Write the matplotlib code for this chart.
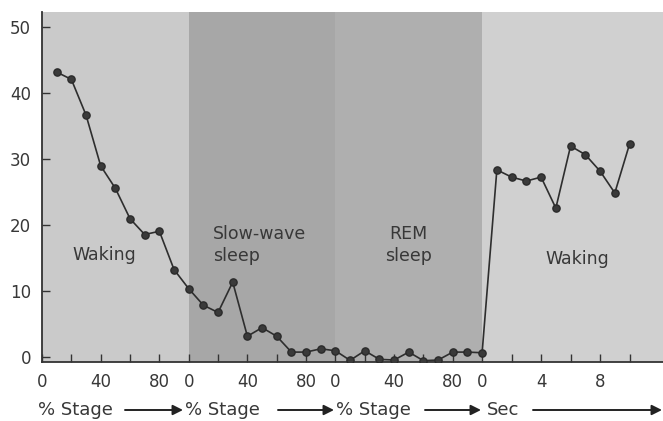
import numpy as np
import matplotlib
matplotlib.use("Agg")
import matplotlib.pyplot as plt

# Data
stages = ["Waking", "Slow-wave\nsleep", "REM\nsleep", "Waking"]
stage_colors = ["#cacaca", "#a7a7a7", "#afafaf", "#d0d0d0"]

pct = [10, 20, 30, 40, 50, 60, 70, 80, 90, 100]
waking_pct = [43.2, 42.1, 36.7, 29.0, 25.6, 21.0, 18.6, 19.1, 13.3, 10.4]
sws_pct = [7.9, 6.8, 11.4, 3.2, 4.5, 3.2, 0.8, 0.8, 1.3, 1.0]
rem_pct = [-0.45, 1.0, -0.3, -0.4, 0.8, -0.5, -0.4, 0.8, 0.8, 0.7]

sec = [1, 2, 3, 4, 5, 6, 7, 8, 9, 10]
waking_sec = [28.4, 27.3, 26.7, 27.3, 22.6, 32.0, 30.7, 28.2, 24.9, 32.3]

pct_labels = ["0", "", "40", "", "80"]
sec_labels = ["0", "", "4", "", "8", ""]

# one long x axis: three 100% stages, then seconds
SEC_UNIT = 10.05
XMAX = 423.3
x = np.concatenate([np.array(pct) + 0, np.array(pct) + 100, np.array(pct) + 200,
                    300 + np.array(sec) * SEC_UNIT])
y = np.concatenate([waking_pct, sws_pct, rem_pct, waking_sec])

fig = plt.figure(figsize=(6.63, 4.21), dpi=100)
ax = fig.add_axes([42 / 663, 59 / 421, 1 - 42 / 663, 350 / 421])
ax.set_xlim(0, XMAX)
ax.set_ylim(-0.7, 52.3)

# shaded stage bands
edges = [0, 100, 200, 300, XMAX]
for i in range(4):
    ax.axvspan(edges[i], edges[i + 1], color=stage_colors[i], lw=0, zorder=0)

ax.plot(x, y, color="#2e2e2e", lw=1.2, marker="o", markersize=5.2,
        markerfacecolor="#3a3a3a", markeredgecolor="#2a2a2a", zorder=3)

# stage labels
tk = dict(fontsize=12.5, color="#383838", zorder=4)
ax.text(42.3, 15.5, stages[0], ha="center", va="center", **tk)
ax.text(116.6, 17.0, stages[1], ha="left", va="center", linespacing=1.25, **tk)
ax.text(249.5, 17.0, stages[2], ha="center", va="center", linespacing=1.25, **tk)
ax.text(364.7, 14.9, stages[3], ha="center", va="center", **tk)

# ticks
xt, xl = [], []
for off in [0, 100, 200]:
    for j, v in enumerate(range(0, 100, 20)):
        xt.append(off + v)
        xl.append(pct_labels[j])
for j, s in enumerate(range(0, 12, 2)):
    xt.append(300 + s * SEC_UNIT)
    xl.append(sec_labels[j])
ax.set_xticks(xt)
ax.set_xticklabels(xl)
ax.set_yticks([0, 10, 20, 30, 40, 50])
ax.tick_params(direction="in", length=6, width=1, color="#333333",
               labelsize=12, labelcolor="#383838", pad=8)

for s in ["top", "right"]:
    ax.spines[s].set_visible(False)
for s in ["left", "bottom"]:
    ax.spines[s].set_color("#333333")
    ax.spines[s].set_linewidth(1.3)

# bottom axis captions with arrows
yb = (421 - 410) / 421
for txt, x0 in [("% Stage", 38), ("% Stage", 185), ("% Stage", 336), ("Sec", 487)]:
    fig.text(x0 / 663, yb, txt, ha="left", va="center", fontsize=13, color="#383838")
for a, b in [(125, 183), (278, 334), (425, 481), (533, 662)]:
    fig.add_artist(matplotlib.patches.FancyArrowPatch(
        (a / 663, yb), (b / 663, yb), transform=fig.transFigure,
        arrowstyle="-|>,head_length=6,head_width=3", color="#222222", lw=1.4,
        shrinkA=0, shrinkB=0))

fig.savefig("out.png", dpi=100)
